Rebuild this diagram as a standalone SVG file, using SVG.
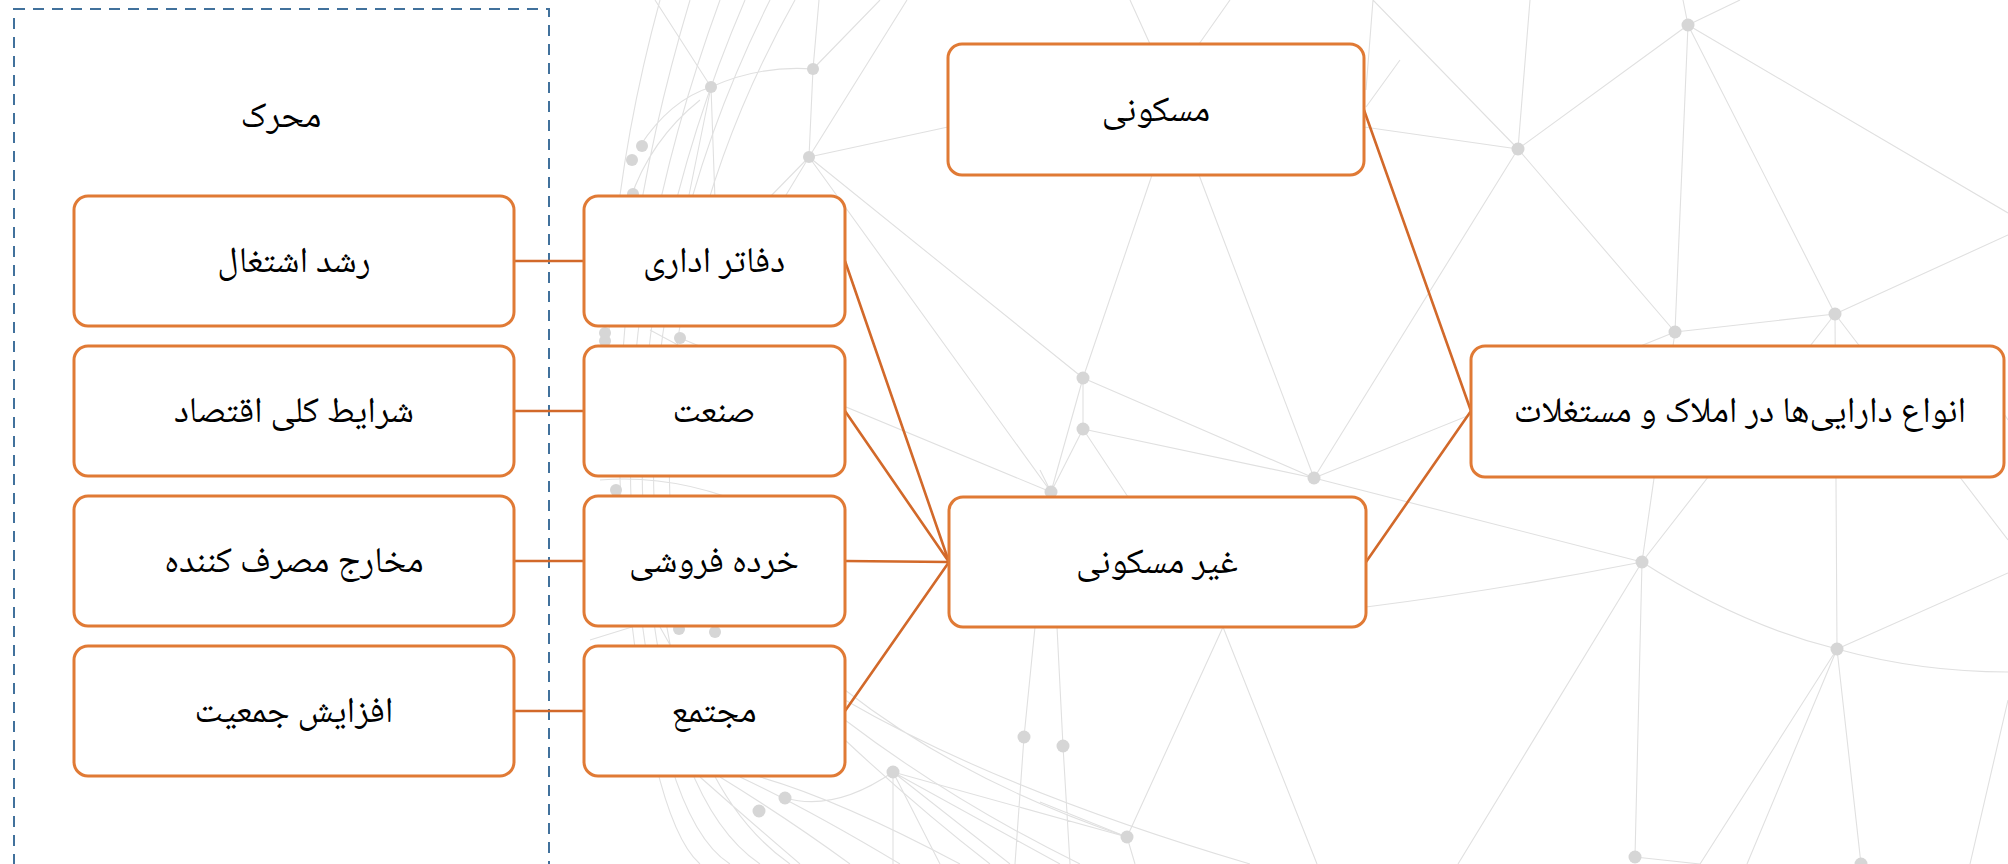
<svg xmlns="http://www.w3.org/2000/svg" width="2008" height="864" viewBox="0 0 2008 864">
  <style>
    .net { fill: none; stroke: #e0e0e0; stroke-width: 1.1; }
    .dot { fill: #d6d6d6; }
    .box { fill: #ffffff; stroke: #E07A35; stroke-width: 3; }
    .link { fill: none; stroke: #D2692A; stroke-width: 2.6; }
    .frame { fill: none; stroke: #41719C; stroke-width: 2; stroke-dasharray: 11 8; }
    .label { font-family: "Noto Naskh Arabic", "Amiri", "Noto Serif Arabic", "Liberation Serif", "DejaVu Sans", serif; font-size: 36px; fill: #000000; text-anchor: middle; direction: rtl; }
  </style>

  <rect width="2008" height="864" fill="#ffffff"/>

  <!-- decorative network backdrop -->
  <g id="backdrop">
    <path class="net" d="
      M813,69 L819,0 M813,69 L880,0 M813,69 L809,157 M809,157 L907,0
      M711,87 L715,200 M711,87 L688,200 M711,87 L655,0
      M809,157 L767,200 M809,157 L783,200 M809,157 L948,127
      M809,157 L1051,492 M809,157 L1083,378
      M1083,378 L1152,175 M1083,378 L1083,429 M1083,378 L1051,492 M1083,378 L1314,478
      M1083,429 L1314,478 M1083,429 L1051,492 M1083,429 L1130,500
      M680,338 L1051,492
      M1314,478 L1199,175 M1314,478 L1675,332 M1314,478 L1642,562 M1314,478 L1518,149
      M1518,149 L1373,0 M1518,149 L1530,0 M1518,149 L1688,25 M1518,149 L1364,127 M1518,149 L1675,332
      M1688,25 L1683,0 M1688,25 L1740,0 M1688,25 L1675,332 M1688,25 L1835,314 M1688,25 L2008,213
      M1675,332 L1835,314 M1675,332 L1642,562
      M1835,314 L2008,235 M1835,314 L1837,649 M1835,314 L1642,562 M1835,314 L2008,540
      M1642,562 L1635,857 M1642,562 L1458,864
      M1837,649 L2008,573 M1837,649 L1747,864 M1837,649 L1861,864
      M1635,857 L1700,864
      M1024,737 L1035,627 M1024,737 L1015,864
      M1063,746 L1057,627 M1063,746 L1070,864
      M1127,837 L1223,627 M1223,627 L1317,864 M1127,837 L1135,864
      M893,772 L1127,837 M893,772 L893,864 M893,772 L940,864 M893,772 L1010,864 M893,772 L1060,864
      M1127,837 L1040,802
      M1051,492 L1040,470
      M1130,0 L1150,44 M1230,0 L1199,44
      M1366,107 L1400,60 M1366,90 L1373,0
      M1700,864 L1837,649
      M2008,420 L1960,346 M2008,700 L1970,864
    "/>
    <!-- curved strands -->
    <path class="net" d="
      M711,87 Q760,65 813,69
      M711,87 Q670,100 640,146
      M1642,562 Q1740,625 1837,649
      M1837,649 Q1920,672 2008,672
      M1366,607 Q1500,590 1642,562
      M785,798 Q835,812 893,772
      M845,690 Q960,780 1127,837
      M845,700 Q1000,790 1250,864
      M845,740 Q920,810 990,864
      M845,720 Q950,800 1080,864
      M700,777 Q760,830 800,864
      M720,777 Q790,820 850,864
      M740,777 Q810,810 900,864
      M760,777 Q840,800 960,864
      M690,0 Q600,300 625,560 T700,864
      M720,0 Q610,300 635,560 T730,864
      M745,0 Q625,280 645,540 T760,864
      M770,0 Q640,260 655,520 T790,864
      M795,0 Q660,240 670,500
      M660,0 Q600,220 610,420
      M700,100 Q650,140 630,200
      M650,330 Q780,400 845,430
      M600,480 Q720,470 845,560
      M590,640 Q720,600 845,560
      M660,627 Q700,700 760,777
    "/>
    <g class="dot">
      <circle cx="813" cy="69" r="6"/>
      <circle cx="711" cy="87" r="6"/>
      <circle cx="642" cy="146" r="6"/>
      <circle cx="632" cy="160" r="6"/>
      <circle cx="809" cy="157" r="6"/>
      <circle cx="633" cy="194" r="6"/>
      <circle cx="605" cy="333" r="6"/>
      <circle cx="605" cy="341" r="6"/>
      <circle cx="680" cy="338" r="6"/>
      <circle cx="616" cy="490" r="6"/>
      <circle cx="679" cy="629" r="6"/>
      <circle cx="715" cy="632" r="6"/>
      <circle cx="1083" cy="378" r="6.5"/>
      <circle cx="1083" cy="429" r="6.5"/>
      <circle cx="1051" cy="492" r="6.5"/>
      <circle cx="1314" cy="478" r="6.5"/>
      <circle cx="1518" cy="149" r="6.5"/>
      <circle cx="1688" cy="25" r="6.5"/>
      <circle cx="1675" cy="332" r="6.5"/>
      <circle cx="1835" cy="314" r="6.5"/>
      <circle cx="1642" cy="562" r="6.5"/>
      <circle cx="1837" cy="649" r="6.5"/>
      <circle cx="1635" cy="857" r="6.5"/>
      <circle cx="1861" cy="864" r="6.5"/>
      <circle cx="785" cy="798" r="6.5"/>
      <circle cx="759" cy="811" r="6.5"/>
      <circle cx="893" cy="772" r="6.5"/>
      <circle cx="1024" cy="737" r="6.5"/>
      <circle cx="1063" cy="746" r="6.5"/>
      <circle cx="1127" cy="837" r="6.5"/>
    </g>
  </g>

  <!-- dashed group frame for the driver column -->
  <g id="drivers-frame">
    <rect class="frame" x="14" y="9" width="535" height="900"/>
    <text class="label" x="281" y="127">محرک</text>
  </g>

  <!-- connectors -->
  <g id="connectors">
    <path class="link" d="M514,261 H584 M514,411 H584 M514,561 H584 M514,711 H584"/>
    <path class="link" d="M845,261 L949,562 M845,411 L949,562 M845,561 L949,562 M845,711 L949,562"/>
    <path class="link" d="M1364,110 L1471,411 M1366,562 L1471,411"/>
  </g>

  <!-- driver nodes -->
  <g id="node-employment">
    <rect class="box" x="74" y="196" width="440" height="130" rx="14"/>
    <text class="label" x="294" y="272">رشد اشتغال</text>
  </g>
  <g id="node-economy">
    <rect class="box" x="74" y="346" width="440" height="130" rx="14"/>
    <text class="label" x="294" y="422">شرایط کلی اقتصاد</text>
  </g>
  <g id="node-consumer">
    <rect class="box" x="74" y="496" width="440" height="130" rx="14"/>
    <text class="label" x="294" y="572">مخارج مصرف کننده</text>
  </g>
  <g id="node-population">
    <rect class="box" x="74" y="646" width="440" height="130" rx="14"/>
    <text class="label" x="294" y="722">افزایش جمعیت</text>
  </g>

  <!-- property sectors -->
  <g id="node-office">
    <rect class="box" x="584" y="196" width="261" height="130" rx="14"/>
    <text class="label" x="714" y="272">دفاتر اداری</text>
  </g>
  <g id="node-industrial">
    <rect class="box" x="584" y="346" width="261" height="130" rx="14"/>
    <text class="label" x="714" y="422">صنعت</text>
  </g>
  <g id="node-retail">
    <rect class="box" x="584" y="496" width="261" height="130" rx="14"/>
    <text class="label" x="714" y="572">خرده فروشی</text>
  </g>
  <g id="node-complex">
    <rect class="box" x="584" y="646" width="261" height="130" rx="14"/>
    <text class="label" x="714" y="722">مجتمع</text>
  </g>

  <!-- categories -->
  <g id="node-residential">
    <rect class="box" x="948" y="44" width="416" height="131" rx="14"/>
    <text class="label" x="1156" y="121">مسکونی</text>
  </g>
  <g id="node-nonresidential">
    <rect class="box" x="949" y="497" width="417" height="130" rx="14"/>
    <text class="label" x="1157" y="573">غیر مسکونی</text>
  </g>

  <!-- root -->
  <g id="node-asset-types">
    <rect class="box" x="1471" y="346" width="533" height="131" rx="14"/>
    <text class="label" x="1740" y="422">انواع دارایی‌ها در املاک و مستغلات</text>
  </g>
</svg>
